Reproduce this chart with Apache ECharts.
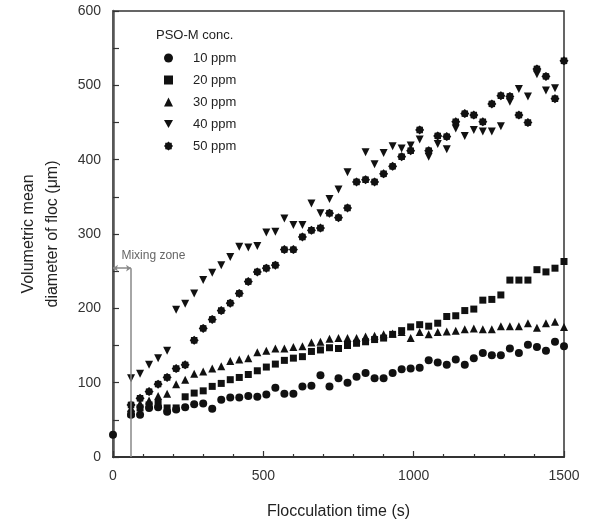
<!DOCTYPE html>
<html>
<head>
<meta charset="utf-8">
<script src="https://cdn.jsdelivr.net/npm/echarts@6/dist/echarts.min.js"></script>
<style>
  html, body { margin: 0; padding: 0; background: #fff; }
  #chart { width: 596px; height: 527px; }
</style>
</head>
<body>
<div id="chart"></div>
<script>
// flocculation time (s), sampled every 30 s after the mixing zone
const times = [0, 60, 90, 120, 150, 180, 210, 240, 270, 300, 330, 360, 390, 420, 450, 480, 510, 540, 570, 600,
  630, 660, 690, 720, 750, 780, 810, 840, 870, 900, 930, 960, 990, 1020, 1050, 1080, 1110, 1140, 1170, 1200,
  1230, 1260, 1290, 1320, 1350, 1380, 1410, 1440, 1470, 1500];

// volumetric mean diameter (um) per PSO-M dose
const ppm10 = [30, 57, 57, 66, 67, 61, 64, 67, 71, 72, 65, 77, 80, 80, 82, 81, 84, 93, 85, 85,
  95, 96, 110, 95, 106, 100, 108, 113, 106, 106, 113, 118, 119, 120, 130, 127, 124, 131, 124, 133,
  140, 137, 137, 146, 140, 151, 148, 143, 155, 149];
const ppm20 = [null, 58, 66, 70, 72, 66, 66, 81, 86, 89, 95, 99, 104, 107, 111, 116, 121, 125, 130, 133,
  135, 142, 144, 147, 146, 150, 153, 155, 158, 160, 165, 170, 175, 178, 176, 180, 189, 190, 197, 199,
  211, 212, 218, 238, 238, 238, 252, 249, 254, 263];
const ppm30 = [null, 66, 72, 76, 82, 85, 98, 104, 112, 115, 119, 122, 129, 131, 133, 141, 143, 146, 146, 148,
  149, 154, 155, 159, 160, 160, 160, 162, 163, 165, 166, 168, 160, 168, 165, 168, 169, 170, 172, 173,
  172, 172, 176, 176, 176, 180, 174, 180, 182, 175];
const ppm40 = [null, 106, 112, 124, 133, 143, 198, 206, 220, 238, 248, 258, 269, 283, 282, 284, 302, 303, 321, 312,
  312, 341, 328, 347, 360, 383, null, 410, 394, 409, 418, 415, 419, 427, 404, 421, 414, 442, 432, 440,
  438, 438, 445, 478, 495, 485, 515, 493, 496, null];
const ppm50 = [null, 70, 79, 88, 98, 107, 119, 124, 157, 173, 185, 197, 207, 220, 236, 249, 254, 258, 279, 279,
  296, 305, 308, 328, 322, 335, 370, 373, 370, 381, 391, 404, 412, 440, 412, 432, 431, 451, 462, 460,
  451, 475, 486, 485, 460, 450, 522, 512, 482, 533];

const seriesNames = ['10 ppm', '20 ppm', '30 ppm', '40 ppm', '50 ppm'];

// mixing zone marker
const mixingEnd = 60;
const mixingTop = 254;

const starPath = 'path://M0,-10 L3,-7.5 L7.1,-7.1 L7.5,-3 L10,0 L7.5,3 L7.1,7.1 L3,7.5 L0,10 L-3,7.5 L-7.1,7.1 L-7.5,3 L-10,0 L-7.5,-3 L-7.1,-7.1 L-3,-7.5 Z';
const symbols = ['circle', 'rect', 'triangle', 'path://M-10,-9 L10,-9 L0,9 Z', starPath];
const sizes = [8, 7, 8, 8, 9];
const allData = [ppm10, ppm20, ppm30, ppm40, ppm50];

const ink = '#111';
const fontFamily = '"Liberation Sans", Arial, sans-serif';

const chart = echarts.init(document.getElementById('chart'));

const series = seriesNames.map((name, i) => ({
  name: name,
  type: 'scatter',
  symbol: symbols[i],
  symbolSize: sizes[i],
  itemStyle: { color: ink, opacity: 1 },
  data: times.map((t, k) => allData[i][k] == null ? null : [t, allData[i][k]]).filter(d => d),
  z: 3
}));

// mixing zone: vertical boundary, double arrow and label
series[0].markLine = {
  silent: true,
  animation: false,
  symbol: 'none',
  lineStyle: { color: '#888', width: 1.5, type: 'solid' },
  label: { show: false },
  data: [
    [{ coord: [mixingEnd, 0] }, { coord: [mixingEnd, mixingTop] }],
    [{ coord: [0, mixingTop], symbol: 'arrow', symbolSize: 5 }, { coord: [mixingEnd, mixingTop], symbol: 'arrow', symbolSize: 5 }]
  ]
};
series[0].markPoint = {
  silent: true,
  animation: false,
  symbol: 'circle',
  symbolSize: 0,
  label: {
    show: true,
    position: 'right',
    distance: 0,
    formatter: 'Mixing zone',
    color: '#666',
    fontSize: 12,
    fontFamily: fontFamily
  },
  data: [{ coord: [28, mixingTop + 17] }]
};

const option = {
  animation: false,
  textStyle: { fontFamily: fontFamily },
  title: {
    text: 'PSO-M conc.',
    left: 151,
    top: 24,
    textStyle: { fontSize: 13, fontWeight: 'normal', color: '#222', fontFamily: fontFamily }
  },
  legend: {
    data: seriesNames,
    orient: 'vertical',
    left: 159,
    top: 45,
    itemWidth: 9,
    itemHeight: 9,
    itemGap: 6,
    textStyle: { fontSize: 13, color: '#222', padding: [0, 0, 0, 15], lineHeight: 16 }
  },
  grid: {
    left: 113,
    right: 32,
    top: 11,
    bottom: 70,
    show: true,
    borderColor: '#333',
    borderWidth: 1.5
  },
  xAxis: {
    type: 'value',
    min: 0,
    max: 1500,
    interval: 500,
    name: 'Flocculation time (s)',
    nameLocation: 'middle',
    nameGap: 47,
    nameTextStyle: { fontSize: 16, color: '#222' },
    axisLine: { show: true, lineStyle: { color: '#333', width: 2 } },
    axisTick: { show: true, inside: true, length: 6, lineStyle: { color: '#333', width: 1.2 } },
    minorTick: { show: true, splitNumber: 5, length: 3, lineStyle: { color: '#333', width: 1.2 } },
    axisLabel: { fontSize: 14, color: '#333', margin: 12, formatter: v => String(v) },
    splitLine: { show: false }
  },
  yAxis: {
    type: 'value',
    min: 0,
    max: 600,
    interval: 100,
    name: 'Volumetric mean\ndiameter of floc (μm)',
    nameLocation: 'middle',
    nameRotate: 90,
    nameGap: 48,
    nameTextStyle: { fontSize: 16, color: '#222', lineHeight: 24 },
    axisLine: { show: true, lineStyle: { color: '#555', width: 2.5 } },
    axisTick: { show: true, inside: true, length: 6, lineStyle: { color: '#333', width: 1.2 } },
    minorTick: { show: true, splitNumber: 2, length: 6, lineStyle: { color: '#333', width: 1.2 } },
    axisLabel: { fontSize: 14, color: '#333', margin: 12 },
    splitLine: { show: false }
  },
  series: series
};

chart.setOption(option);
</script>
</body>
</html>
